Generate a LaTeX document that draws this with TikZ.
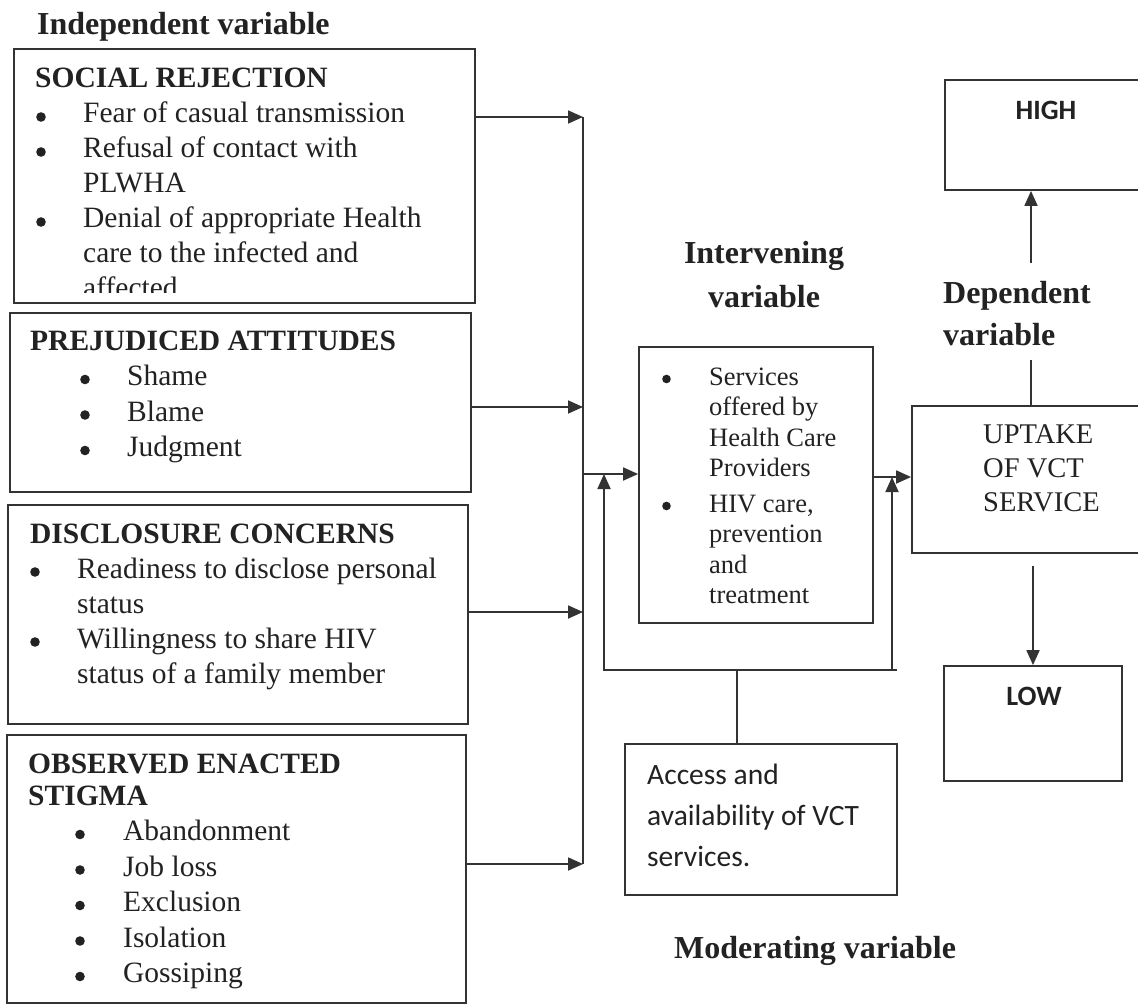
\documentclass[tikz,border=0pt]{standalone}
\usepackage{fontspec}
\setmainfont{Liberation Serif}
\newfontfamily\carl{Carlito}
\usetikzlibrary{arrows.meta,fit}
\definecolor{ink}{HTML}{222222}
\definecolor{linec}{HTML}{333333}
\newcommand{\bdot}[1]{\tikz[baseline={(0pt,-6pt)}]\fill[ink] (#1,0pt) circle[radius=#1];}
\newcommand{\bitem}[3]{\hspace*{#1}\makebox[#2][l]{\bdot{4.8pt}}#3}
\newcommand{\sitem}[3]{\hspace*{#1}\makebox[#2][l]{\bdot{4.3pt}}#3}
\newcommand{\bcont}[2]{\hspace*{#1}#2}
\begin{document}
\begin{tikzpicture}[x=1pt,y=-1pt,
  box/.style={draw=linec, line width=1.8pt, inner sep=0pt, rectangle},
  conn/.style={draw=linec, line width=1.8pt},
  arr/.style={conn, -{Triangle[length=15pt,width=13pt]}},
  txt/.style={inner sep=0pt, anchor=base west, text=ink},
  ctxt/.style={inner sep=0pt, anchor=base, text=ink},
  ]
\useasboundingbox (0,0) rectangle (1138,1006);
\clip (0,0) rectangle (1138,1006);
\fill[white] (0,0) rectangle (1138,1006);

% ---------- boxes ----------
\node[box, fit={(14,49) (475,303)}] (box1) {};
\node[box, fit={(10,313) (471,492)}] (box2) {};
\node[box, fit={(8,505) (468,724)}] (box3) {};
\node[box, fit={(7,735) (466,1003)}] (box4) {};
\node[box, fit={(639,347) (873,623)}] (inter) {};
\node[box, fit={(912,406) (1150,553)}] (uptake) {};
\node[box, fit={(945,80) (1150,190)}] (high) {};
\node[box, fit={(944,666) (1122,781)}] (low) {};
\node[box, fit={(625,744) (897,895)}] (access) {};

% ---------- headings ----------
\node[txt] (tind) at (37,35) {\fontsize{32}{38}\selectfont\bfseries Independent variable};
\node[ctxt] (tintv) at (764,263) {\fontsize{32}{44}\selectfont\bfseries\begin{tabular}[t]{@{}c@{}}Intervening\\variable\end{tabular}};
\node[txt] (tdep) at (943,303) {\fontsize{32}{42}\selectfont\bfseries\begin{tabular}[t]{@{}l@{}}Dependent\\variable\end{tabular}};
\node[txt] (tmod) at (674,958) {\fontsize{32}{38}\selectfont\bfseries Moderating variable};

% ---------- box texts ----------
\begin{scope}
\clip (14,49) rectangle (475,292);
\node[txt] (t1) at (35,88) {\fontsize{29.5}{35}\selectfont\begin{tabular}[t]{@{}l@{}}
\textbf{SOCIAL REJECTION}\\
\bitem{1pt}{47pt}{Fear of casual transmission}\\
\bitem{1pt}{47pt}{Refusal of contact with}\\
\bcont{48pt}{PLWHA}\\
\bitem{1pt}{47pt}{Denial of appropriate Health}\\
\bcont{48pt}{care to the infected and}\\
\bcont{48pt}{affected}
\end{tabular}};
\end{scope}

\node[txt] (t2) at (30,350) {\fontsize{29.5}{35.5}\selectfont\begin{tabular}[t]{@{}l@{}}
\textbf{PREJUDICED ATTITUDES}\\
\bitem{50pt}{47pt}{Shame}\\
\bitem{50pt}{47pt}{Blame}\\
\bitem{50pt}{47pt}{Judgment}
\end{tabular}};

\node[txt] (t3) at (30,543) {\fontsize{29.5}{35}\selectfont\begin{tabular}[t]{@{}l@{}}
\textbf{DISCLOSURE CONCERNS}\\
\bitem{0pt}{47pt}{Readiness to disclose personal}\\
\bcont{47pt}{status}\\
\bitem{0pt}{47pt}{Willingness to share HIV}\\
\bcont{47pt}{status of a family member}
\end{tabular}};

\node[txt] (t4) at (28,773) {\fontsize{29.5}{35.5}\selectfont\begin{tabular}[t]{@{}l@{}}
\textbf{OBSERVED ENACTED}\\[-3.5pt]
\textbf{STIGMA}\\
\bitem{47pt}{48pt}{Abandonment}\\
\bitem{47pt}{48pt}{Job loss}\\
\bitem{47pt}{48pt}{Exclusion}\\
\bitem{47pt}{48pt}{Isolation}\\
\bitem{47pt}{48pt}{Gossiping}
\end{tabular}};

\node[txt] (tint) at (662,385) {\fontsize{26.5}{30.5}\selectfont\begin{tabular}[t]{@{}l@{}}
\sitem{0pt}{47pt}{Services}\\
\bcont{47pt}{offered by}\\
\bcont{47pt}{Health Care}\\
\bcont{47pt}{Providers}\\[5pt]
\sitem{0pt}{47pt}{HIV care,}\\
\bcont{47pt}{prevention}\\
\bcont{47pt}{and}\\
\bcont{47pt}{treatment}
\end{tabular}};

\node[txt] (tup) at (983,443) {\fontsize{28.5}{34}\selectfont\begin{tabular}[t]{@{}l@{}}
UPTAKE\\OF VCT\\SERVICE
\end{tabular}};

\node[ctxt] (thigh) at (1046,120) {\carl\fontsize{28}{34}\selectfont\bfseries HIGH};
\node[ctxt] (tlow) at (1034,705) {\carl\fontsize{28}{34}\selectfont\bfseries LOW};

\node[txt] (tacc) at (647,784) {\carl\fontsize{29.5}{41}\selectfont\begin{tabular}[t]{@{}l@{}}
Access and\\availability of VCT\\services.
\end{tabular}};

% ---------- connectors ----------
\coordinate (b1) at (583,117);
\coordinate (b2) at (583,407);
\coordinate (b3) at (583,612);
\coordinate (b4) at (583,864);
\coordinate (bj) at (583,474);
\draw[arr] (box1.east |- b1) -- (b1);
\draw[arr] (box2.east |- b2) -- (b2);
\draw[arr] (box3.east |- b3) -- (b3);
\draw[arr] (box4.east |- b4) -- (b4);
\draw[conn] (b1) -- (b4);
\draw[arr] (bj) -- (inter.west |- bj);

\coordinate (ij) at (873,477);
\draw[arr] (inter.east |- ij) -- (uptake.west |- ij);

\coordinate (ms) at (737,670);
\coordinate (ml) at (604,670);
\coordinate (mr) at (892,670);
\coordinate (me) at (897,670);
\draw[conn] (access.north -| ms) -- (ms);
\draw[arr] (me) -- (ml) -- (ml |- bj);
\draw[arr] (mr) -- (mr |- ij);

\coordinate (da) at (1031,360);
\coordinate (db) at (1031,263);
\draw[conn] (uptake.north -| da) -- (da);
\draw[arr] (db) -- (high.south -| db);

\coordinate (la) at (1033,566);
\draw[arr] (la) -- (low.north -| la);
\end{tikzpicture}
\end{document}
